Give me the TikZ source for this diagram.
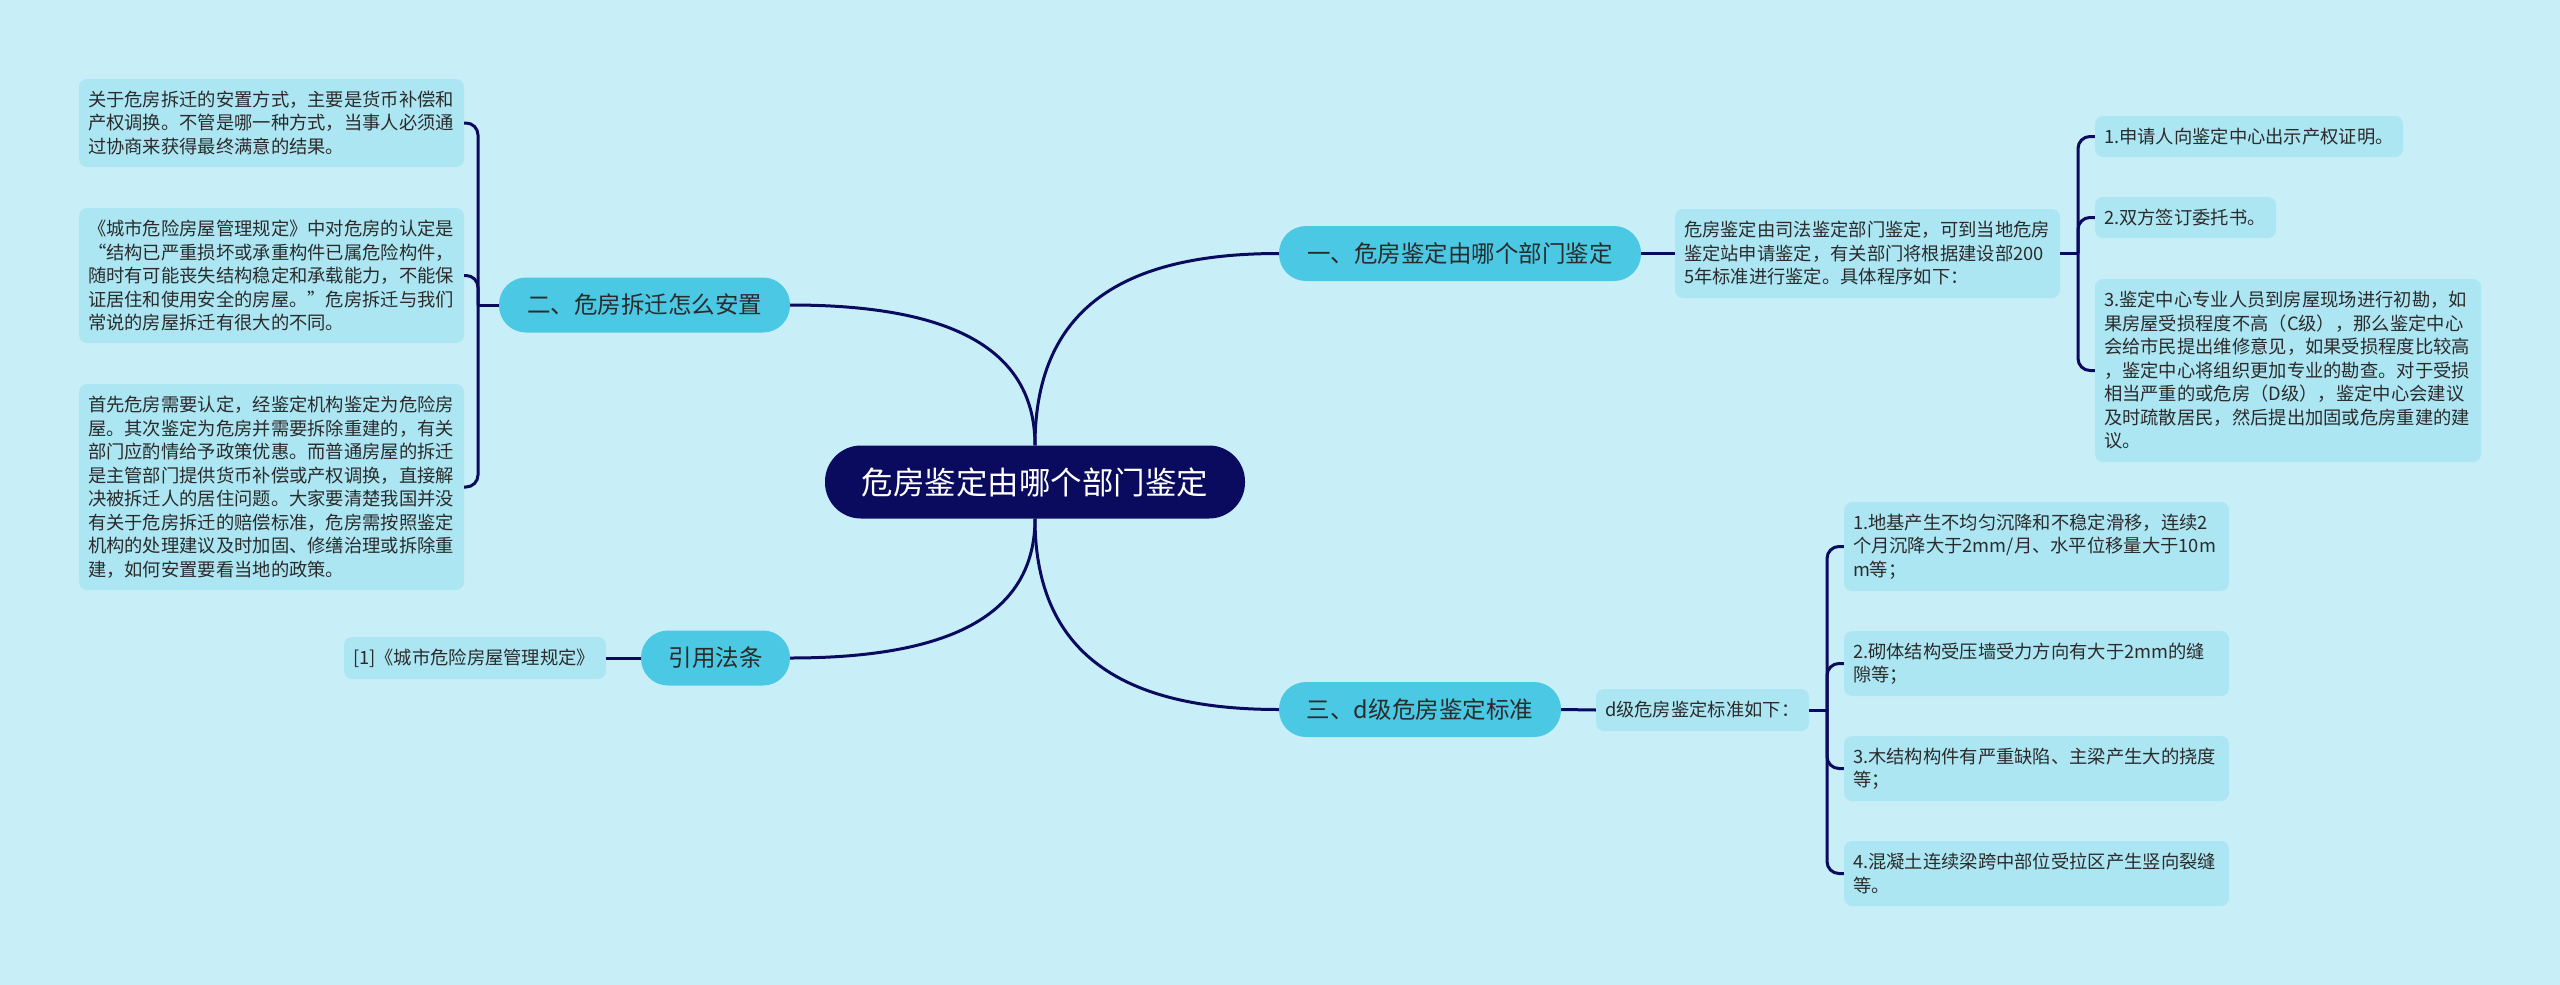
\documentclass[tikz,border=0pt]{standalone}
\usepackage{fontspec}
\setmainfont{Noto Sans CJK SC}
\definecolor{bg}{HTML}{C8EFF7}
\definecolor{navy}{HTML}{0A0A5E}
\definecolor{branch}{HTML}{4BC8E3}
\definecolor{leaf}{HTML}{ADE6F3}
\definecolor{txt}{HTML}{2B2B2B}
\tikzset{
  rootbox/.style={fill=navy, text=white, rounded corners=36pt, minimum width=420pt, minimum height=73pt, inner sep=0pt, font=\fontsize{31.5pt}{36pt}\selectfont},
  branchbox/.style={fill=branch, text=txt, rounded corners=27pt, minimum height=55pt, inner sep=0pt, font=\fontsize{23.5pt}{28pt}\selectfont},
  leafbox/.style={fill=leaf, text=txt, rounded corners=8pt, inner xsep=9pt, inner ysep=0pt, align=left, font=\fontsize{18.3pt}{23.5pt}\selectfont},
  link/.style={draw=navy, line width=3pt},
  tree/.style={draw=navy, line width=3pt, rounded corners=12pt},
}
\begin{document}
\begin{tikzpicture}[x=1pt,y=-1pt]
\useasboundingbox (0,0) rectangle (2560,985);
\fill[bg] (0,0) rectangle (2560,985);

% root and branches
\node[rootbox] (root) at (1035,482) {危房鉴定由哪个部门鉴定};
\node[branchbox, minimum width=362pt] (b1) at (1460,253.5) {一、危房鉴定由哪个部门鉴定};
\node[branchbox, minimum width=291pt] (b2) at (644.5,305) {二、危房拆迁怎么安置};
\node[branchbox, minimum width=282pt] (b3) at (1420,709.5) {三、d级危房鉴定标准};
\node[branchbox, minimum width=149pt] (b4) at (715.5,658) {引用法条};

% branch 1 subtree
\node[leafbox, text width=367pt, minimum height=89pt] (t1) at (1867.5,253.5) {危房鉴定由司法鉴定部门鉴定，可到当地危房\\鉴定站申请鉴定，有关部门将根据建设部200\\5年标准进行鉴定。具体程序如下：};
\node[leafbox, text width=290pt, minimum height=41pt] (r1) at (2249,136.5) {1.申请人向鉴定中心出示产权证明。};
\node[leafbox, text width=163pt, minimum height=41pt] (r2) at (2185.5,217.5) {2.双方签订委托书。};
\node[leafbox, text width=368pt, minimum height=183pt] (r3) at (2288,370.5) {3.鉴定中心专业人员到房屋现场进行初勘，如\\果房屋受损程度不高（C级），那么鉴定中心\\会给市民提出维修意见，如果受损程度比较高\\，鉴定中心将组织更加专业的勘查。对于受损\\相当严重的或危房（D级），鉴定中心会建议\\及时疏散居民，然后提出加固或危房重建的建\\议。};

% branch 2 subtree
\node[leafbox, text width=367pt, minimum height=88pt] (l1) at (271.5,123) {关于危房拆迁的安置方式，主要是货币补偿和\\产权调换。不管是哪一种方式，当事人必须通\\过协商来获得最终满意的结果。};
\node[leafbox, text width=367pt, minimum height=135pt] (l2) at (271.5,275.5) {《城市危险房屋管理规定》中对危房的认定是\\“结构已严重损坏或承重构件已属危险构件，\\随时有可能丧失结构稳定和承载能力，不能保\\证居住和使用安全的房屋。”危房拆迁与我们\\常说的房屋拆迁有很大的不同。};
\node[leafbox, text width=367pt, minimum height=206pt] (l3) at (271.5,487) {首先危房需要认定，经鉴定机构鉴定为危险房\\屋。其次鉴定为危房并需要拆除重建的，有关\\部门应酌情给予政策优惠。而普通房屋的拆迁\\是主管部门提供货币补偿或产权调换，直接解\\决被拆迁人的居住问题。大家要清楚我国并没\\有关于危房拆迁的赔偿标准，危房需按照鉴定\\机构的处理建议及时加固、修缮治理或拆除重\\建，如何安置要看当地的政策。};

% branch 3 subtree
\node[leafbox, text width=195pt, minimum height=42pt] (d) at (1702.5,710) {d级危房鉴定标准如下：};
\node[leafbox, text width=367pt, minimum height=89pt] (s1) at (2036.5,546.5) {1.地基产生不均匀沉降和不稳定滑移，连续2\\个月沉降大于2mm/月、水平位移量大于10m\\m等；};
\node[leafbox, text width=367pt, minimum height=65pt] (s2) at (2036.5,663.5) {2.砌体结构受压墙受力方向有大于2mm的缝\\隙等；};
\node[leafbox, text width=367pt, minimum height=65pt] (s3) at (2036.5,768.5) {3.木结构构件有严重缺陷、主梁产生大的挠度\\等；};
\node[leafbox, text width=367pt, minimum height=65pt] (s4) at (2036.5,873.5) {4.混凝土连续梁跨中部位受拉区产生竖向裂缝\\等。};

% branch 4 subtree
\node[leafbox, text width=244pt, minimum height=42pt] (ref) at (475,658) {[1]《城市危险房屋管理规定》};

% main connectors
\draw[link] (root.north) .. controls (1035,301) and (1133,253.5) .. (b1.west);
\draw[link] (root.north) .. controls (1035,340) and (935,305) .. (b2.east);
\draw[link] (root.south) .. controls (1035,662) and (1134,709.5) .. (b3.west);
\draw[link] (root.south) .. controls (1035,623) and (935,658) .. (b4.east);

% subtree connectors
\draw[link] (b1.east) -- (t1.west);
\coordinate (j1) at (2078,253.5);
\draw[link] (t1.east) -- (j1);
\draw[tree] (j1) |- (r1.west);
\draw[tree] (j1) |- (r2.west);
\draw[tree] (j1) |- (r3.west);

\coordinate (j2) at (478,305);
\draw[link] (b2.west) -- (j2);
\draw[tree] (j2) |- (l1.east);
\draw[tree] (j2) |- (l2.east);
\draw[tree] (j2) |- (l3.east);

\draw[link] (b3.east) -- (d.west);
\coordinate (j3) at (1827,710);
\draw[link] (d.east) -- (j3);
\draw[tree] (j3) |- (s1.west);
\draw[tree] (j3) |- (s2.west);
\draw[tree] (j3) |- (s3.west);
\draw[tree] (j3) |- (s4.west);

\draw[link] (b4.west) -- (ref.east);
\end{tikzpicture}
\end{document}
